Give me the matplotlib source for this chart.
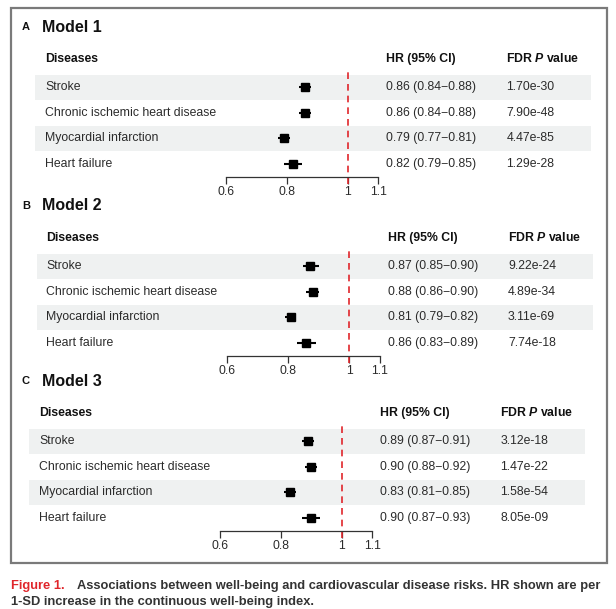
import matplotlib
matplotlib.use("Agg")
import matplotlib.pyplot as plt
from matplotlib.patches import Rectangle

plt.rcParams['font.family'] = ['Liberation Sans', 'DejaVu Sans']
plt.rcParams['mathtext.fontset'] = 'custom'
plt.rcParams['mathtext.it'] = 'Liberation Sans:italic:bold'
plt.rcParams['mathtext.rm'] = 'Liberation Sans:bold'

# ---------------- data ----------------
diseases = ["Stroke", "Chronic ischemic heart disease", "Myocardial infarction", "Heart failure"]
panel_letters = ["A", "B", "C"]
model_names = ["Model 1", "Model 2", "Model 3"]

hr_m1 = [0.86, 0.86, 0.79, 0.82]
lo_m1 = [0.84, 0.84, 0.77, 0.79]
hi_m1 = [0.88, 0.88, 0.81, 0.85]
p_m1 = ["1.70e-30", "7.90e-48", "4.47e-85", "1.29e-28"]

hr_m2 = [0.87, 0.88, 0.81, 0.86]
lo_m2 = [0.85, 0.86, 0.79, 0.83]
hi_m2 = [0.90, 0.90, 0.82, 0.89]
p_m2 = ["9.22e-24", "4.89e-34", "3.11e-69", "7.74e-18"]

hr_m3 = [0.89, 0.90, 0.83, 0.90]
lo_m3 = [0.87, 0.88, 0.81, 0.87]
hi_m3 = [0.91, 0.92, 0.85, 0.93]
p_m3 = ["3.12e-18", "1.47e-22", "1.58e-54", "8.05e-09"]

xticks = [0.6, 0.8, 1.0, 1.1]
xticklabels = ["0.6", "0.8", "1", "1.1"]
ref_line = 1.0

caption_head = "Figure 1."
caption_line1 = "Associations between well-being and cardiovascular disease risks. HR shown are per"
caption_line2 = "1-SD increase in the continuous well-being index."

# ---------------- layout (pixels) ----------------
W, H = 616, 609
fig = plt.figure(figsize=(W / 100, H / 100), dpi=100)

def fx(px):
    return px / W

def fy(py):
    return 1 - py / H

# outer frame
fig.patches.append(Rectangle((fx(11), fy(563)), fx(607) - fx(11), fy(8) - fy(563),
                             transform=fig.transFigure, fill=False,
                             edgecolor="#7a7a7a", linewidth=1.6))

TEXT = "#2b2b2b"
SHADE = "#eff1f1"
RED = "#e0262b"
FS = 8.8

panels = [
    (hr_m1, lo_m1, hi_m1, p_m1, 0, 0),
    (hr_m2, lo_m2, hi_m2, p_m2, 1.5, 179),
    (hr_m3, lo_m3, hi_m3, p_m3, -6, 354),
]

row_h = 25.5
for k, (hr, lo, hi, pv, dx, dy) in enumerate(panels):
    left_px, right_px = 35 + dx, 591 + dx
    top_px = 74.5 + dy
    n = len(diseases)
    bot_px = top_px + n * row_h
    x06_px = 225.7 + dx
    ppu = 305.0  # pixels per HR unit

    ax = fig.add_axes([fx(left_px), fy(bot_px), fx(right_px) - fx(left_px), fy(top_px) - fy(bot_px)])
    ax.set_xlim(0.6 - (x06_px - left_px) / ppu, 0.6 + (right_px - x06_px) / ppu)
    ax.set_ylim(n - 0.5, -0.5)
    ax.patch.set_visible(False)

    for i in range(n):
        if i % 2 == 0:
            ax.axhspan(i - 0.5, i + 0.5, color=SHADE, zorder=0, lw=0)

    ys = list(range(n))
    ax.hlines(ys, lo, hi, color="black", lw=1.5, zorder=3)
    ax.plot(hr, ys, marker="s", ls="none", color="black", markersize=6.0, zorder=4)

    tick_frac = 7 / (bot_px - top_px)
    ax.axvline(ref_line, ymin=-tick_frac, ymax=1.02, color=RED, lw=1.2,
               dashes=(4, 3), clip_on=False, zorder=2)

    for s in ["top", "left", "right"]:
        ax.spines[s].set_visible(False)
    ax.spines["bottom"].set_bounds(xticks[0], xticks[-1])
    ax.spines["bottom"].set_color("#333333")
    ax.spines["bottom"].set_linewidth(0.9)
    ax.set_xticks(xticks)
    ax.set_xticklabels(xticklabels)
    ax.tick_params(axis="x", direction="out", length=5, width=0.9, color="#333333",
                   labelsize=FS, labelcolor=TEXT, pad=1.5)
    ax.set_yticks([])

    trans = ax.get_yaxis_transform()  # x axes fraction, y data

    def axf(px):
        return (px - left_px) / (right_px - left_px)

    col_dis, col_hr, col_p = 45 + dx, 386 + dx, 506.5 + dx
    header_y = (62 + dy - (top_px + row_h / 2)) / row_h
    for cx, label in [(col_dis, "Diseases"), (col_hr, "HR (95% CI)"),
                      (col_p, r"FDR $\mathit{P}$ value")]:
        ax.text(axf(cx), header_y, label, transform=trans, fontsize=FS,
                fontweight="bold", va="baseline", ha="left", color="#111111", clip_on=False)

    for i in range(n):
        ax.text(axf(col_dis), i, diseases[i], transform=trans, fontsize=FS,
                va="center", ha="left", color=TEXT)
        ax.text(axf(col_hr), i, f"{hr[i]:.2f} ({lo[i]:.2f}\u2212{hi[i]:.2f})", transform=trans,
                fontsize=FS, va="center", ha="left", color=TEXT)
        ax.text(axf(col_p), i, pv[i], transform=trans, fontsize=FS,
                va="center", ha="left", color=TEXT)

    fig.text(fx(22), fy(27 + dy), panel_letters[k], fontsize=8, fontweight="bold",
             va="center", ha="left", color="#111111")
    fig.text(fx(42), fy(27 + dy), model_names[k], fontsize=11.5, fontweight="bold",
             va="center", ha="left", color="#111111")

# caption
fig.text(fx(11), fy(586), caption_head, fontsize=9.3, fontweight="bold", color=RED,
         va="center", ha="left")
fig.text(fx(77), fy(586), caption_line1, fontsize=9.3, fontweight="bold", color="#333333",
         va="center", ha="left")
fig.text(fx(11), fy(602), caption_line2, fontsize=9.3, fontweight="bold", color="#333333",
         va="center", ha="left")

fig.savefig("out.png", dpi=100)
